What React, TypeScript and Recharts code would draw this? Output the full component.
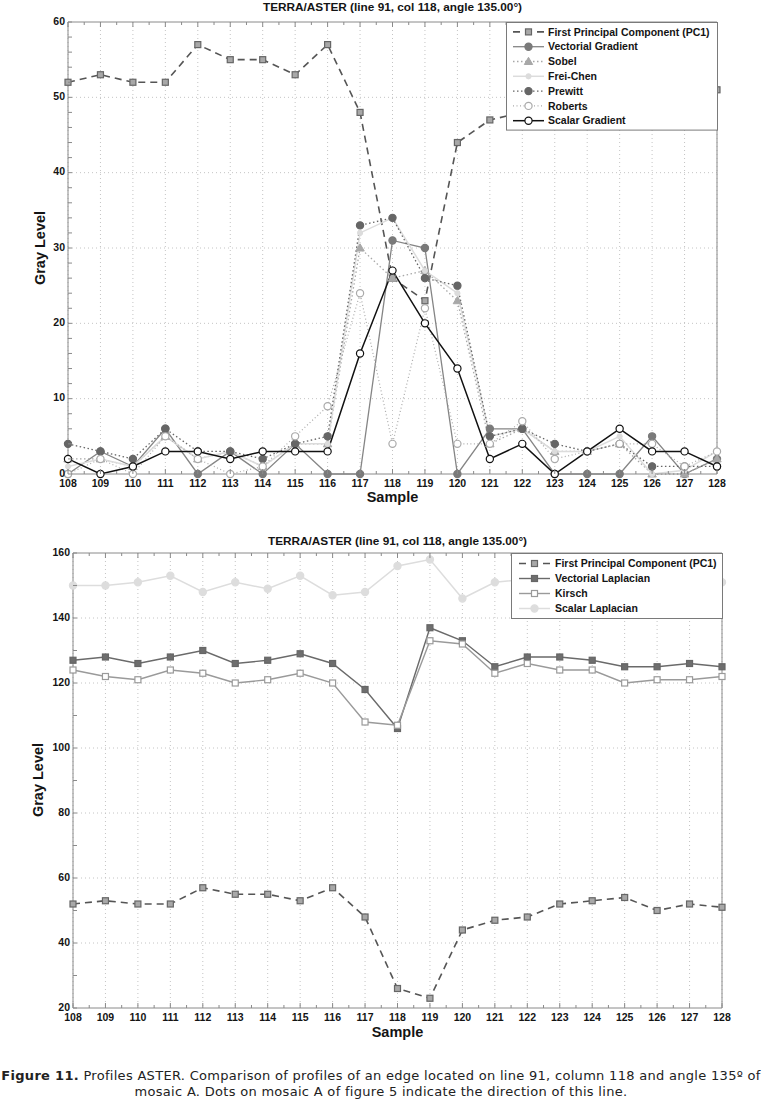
import React from "react";
import { CartesianGrid, Line, LineChart, XAxis, YAxis } from "recharts";

// sample positions along the profile
const SAMPLES = [108, 109, 110, 111, 112, 113, 114, 115, 116, 117, 118, 119, 120, 121, 122, 123, 124, 125, 126, 127, 128];

// top panel: gradient operators
const PC1 = [52, 53, 52, 52, 57, 55, 55, 53, 57, 48, 26, 23, 44, 47, 48, 52, 53, 54, 50, 52, 51];
const VECT_GRAD = [0, 3, 1, 6, 0, 3, 0, 4, 0, 0, 31, 30, 0, 6, 6, 0, 0, 0, 5, 0, 2];
const SOBEL = [2, 2, 1, 5, 2, 3, 1, 4, 4, 30, 26, 27, 23, 4, 6, 3, 3, 4, 0, 0, 2];
const FREI_CHEN = [1, 2, 1, 5, 2, 3, 1, 4, 4, 32, 34, 27, 24, 5, 6, 3, 3, 5, 0, 0.5, 3];
const PREWITT = [4, 3, 2, 6, 3, 3, 2, 4, 5, 33, 34, 26, 25, 5, 6, 4, 3, 4, 1, 1, 1];
const ROBERTS = [0, 2, 0, 5, 2, 0, 1, 5, 9, 24, 4, 22, 4, 4, 7, 2, 3, 4, 4, 1, 3];
const SCALAR_GRAD = [2, 0, 1, 3, 3, 2, 3, 3, 3, 16, 27, 20, 14, 2, 4, 0, 3, 6, 3, 3, 1];

// bottom panel: laplacian operators
const VECT_LAP = [127, 128, 126, 128, 130, 126, 127, 129, 126, 118, 106, 137, 133, 125, 128, 128, 127, 125, 125, 126, 125];
const KIRSCH = [124, 122, 121, 124, 123, 120, 121, 123, 120, 108, 107, 133, 132, 123, 126, 124, 124, 120, 121, 121, 122];
const SCALAR_LAP = [150, 150, 151, 153, 148, 151, 149, 153, 147, 148, 156, 158, 146, 151, 152, 151, 150, 151, 150, 151, 151];

const X_TICKS = SAMPLES.flatMap((s) => (s < 128 ? [s, s + 0.5] : [s]));
const TOP_Y_TICKS = [0, 2, 4, 6, 8, 10, 12, 14, 16, 18, 20, 22, 24, 26, 28, 30, 32, 34, 36, 38, 40, 42, 44, 46, 48, 50, 52, 54, 56, 58, 60];
const BOT_Y_TICKS = [20, 30, 40, 50, 60, 70, 80, 90, 100, 110, 120, 130, 140, 150, 160];

const TITLE = "TERRA/ASTER (line 91, col 118, angle 135.00°)";

const AXIS = "#8a8a8a";
const GRID = "#c4c4c4";
const TXT = "#141414";
const FONT = "'Liberation Sans', Arial, Helvetica, sans-serif";

type MarkerKind = "square" | "circle" | "triangle" | "dot";
type Series = {
  key: string;
  name: string;
  stroke: string;
  width: number;
  dash?: string;
  marker: MarkerKind;
  mfill: string;
  mstroke: string;
};

const TOP_SERIES: Series[] = [
  { key: "pc1", name: "First Principal Component (PC1)", stroke: "#555", width: 1.6, dash: "7 5", marker: "square", mfill: "#a8a8a8", mstroke: "#666" },
  { key: "vg", name: "Vectorial Gradient", stroke: "#858585", width: 1.3, marker: "circle", mfill: "#7a7a7a", mstroke: "#7a7a7a" },
  { key: "sobel", name: "Sobel", stroke: "#a8a8a8", width: 1.3, dash: "1.5 2.5", marker: "triangle", mfill: "#a8a8a8", mstroke: "#a8a8a8" },
  { key: "frei", name: "Frei-Chen", stroke: "#dcdcdc", width: 1.5, marker: "dot", mfill: "#dcdcdc", mstroke: "#dcdcdc" },
  { key: "prewitt", name: "Prewitt", stroke: "#666", width: 1.3, dash: "1.5 2.5", marker: "circle", mfill: "#666", mstroke: "#666" },
  { key: "roberts", name: "Roberts", stroke: "#aaa", width: 1.2, dash: "1 2.5", marker: "circle", mfill: "#fff", mstroke: "#aaa" },
  { key: "sg", name: "Scalar Gradient", stroke: "#111", width: 1.5, marker: "circle", mfill: "#fff", mstroke: "#111" },
];

const BOT_SERIES: Series[] = [
  { key: "pc1", name: "First Principal Component (PC1)", stroke: "#555", width: 1.6, dash: "7 5", marker: "square", mfill: "#a8a8a8", mstroke: "#666" },
  { key: "vl", name: "Vectorial Laplacian", stroke: "#6a6a6a", width: 1.4, marker: "square", mfill: "#6e6e6e", mstroke: "#666" },
  { key: "kirsch", name: "Kirsch", stroke: "#9a9a9a", width: 1.4, marker: "square", mfill: "#fff", mstroke: "#9a9a9a" },
  { key: "sl", name: "Scalar Laplacian", stroke: "#dddddd", width: 1.5, marker: "circle", mfill: "#dddddd", mstroke: "#dddddd" },
];

const topRows = SAMPLES.map((x, i) => ({
  x,
  pc1: PC1[i],
  vg: VECT_GRAD[i],
  sobel: SOBEL[i],
  frei: FREI_CHEN[i],
  prewitt: PREWITT[i],
  roberts: ROBERTS[i],
  sg: SCALAR_GRAD[i],
}));

const botRows = SAMPLES.map((x, i) => ({
  x,
  pc1: PC1[i],
  vl: VECT_LAP[i],
  kirsch: KIRSCH[i],
  sl: SCALAR_LAP[i],
}));

function Marker({ kind, cx, cy, fill, stroke }: { kind: MarkerKind; cx: number; cy: number; fill: string; stroke: string }) {
  if (cx == null || cy == null) return null;
  switch (kind) {
    case "square":
      return <rect x={cx - 3} y={cy - 3} width={6} height={6} fill={fill} stroke={stroke} strokeWidth={1.2} />;
    case "triangle":
      return <polygon points={`${cx},${cy - 4.2} ${cx - 4.2},${cy + 3} ${cx + 4.2},${cy + 3}`} fill={fill} stroke={stroke} strokeWidth={1} />;
    case "dot":
      return <circle cx={cx} cy={cy} r={2.6} fill={fill} stroke={stroke} />;
    default:
      return <circle cx={cx} cy={cy} r={3.6} fill={fill} stroke={stroke} strokeWidth={1.2} />;
  }
}

function XTick(props: any) {
  const { x, y, payload, side } = props;
  const v = payload.value;
  const major = Number.isInteger(v);
  const len = major ? 5 : 3;
  if (side === "top") return <line x1={x} y1={y} x2={x} y2={y + len} stroke={AXIS} />;
  return (
    <g>
      <line x1={x} y1={y} x2={x} y2={y - len} stroke={AXIS} />
      {major && (
        <text x={x} y={y + 5.5} dy="0.71em" textAnchor="middle" fontFamily={FONT} fontWeight="bold" fontSize={10.5} fill={TXT}>
          {v}
        </text>
      )}
    </g>
  );
}

function YTick(props: any) {
  const { x, y, payload, side, step } = props;
  const v = payload.value;
  const len = 4;
  if (side === "right") return <line x1={x} y1={y} x2={x - len} y2={y} stroke={AXIS} />;
  return (
    <g>
      <line x1={x} y1={y} x2={x + len} y2={y} stroke={AXIS} />
      {v % step === 0 && (
        <text x={x - 3} y={y - 1} dy="0.35em" textAnchor="end" fontFamily={FONT} fontWeight="bold" fontSize={10.5} fill={TXT}>
          {v}
        </text>
      )}
    </g>
  );
}

function LegendBox({ items, left, top, width, rowH, pad, sx0, sx1, tx }: { items: Series[]; left: number; top: number; width: number; rowH: number; pad: number; sx0: number; sx1: number; tx: number }) {
  const height = pad * 2 + rowH * items.length;
  return (
    <svg style={{ position: "absolute", left, top }} width={width} height={height}>
      <rect x={0.5} y={0.5} width={width - 1} height={height - 1} fill="#fff" stroke="#7a7a7a" />
      {items.map((s, i) => {
        const cy = pad + rowH * i + rowH / 2;
        const cx = (sx0 + sx1) / 2;
        return (
          <g key={s.key}>
            <line x1={sx0} y1={cy} x2={sx1} y2={cy} stroke={s.stroke} strokeWidth={s.width} strokeDasharray={s.dash} />
            <Marker kind={s.marker} cx={cx} cy={cy} fill={s.mfill} stroke={s.mstroke} />
            <text x={tx} y={cy} dy="0.36em" fontFamily={FONT} fontWeight="bold" fontSize={10.5} fill={TXT}>
              {s.name}
            </text>
          </g>
        );
      })}
    </svg>
  );
}

function Panel({
  rows,
  series,
  height,
  topH,
  botH,
  leftW,
  rightW,
  yDomain,
  yTicks,
  yStep,
  yGrid,
}: {
  rows: any[];
  series: Series[];
  height: number;
  topH: number;
  botH: number;
  leftW: number;
  rightW: number;
  yDomain: [number, number];
  yTicks: number[];
  yStep: number;
  yGrid: number[];
}) {
  return (
    <LineChart width={762} height={height} data={rows} margin={{ top: 0, right: 0, bottom: 0, left: 0 }}>
      <XAxis
        xAxisId="b"
        dataKey="x"
        type="number"
        orientation="bottom"
        domain={[108, 128]}
        ticks={X_TICKS}
        interval={0}
        height={botH}
        tickSize={0}
        tickMargin={0}
        tickLine={false}
        axisLine={{ stroke: AXIS }}
        tick={(p: any) => <XTick {...p} side="bottom" />}
      />
      <XAxis
        xAxisId="t"
        dataKey="x"
        type="number"
        orientation="top"
        domain={[108, 128]}
        ticks={X_TICKS}
        interval={0}
        height={topH}
        tickSize={0}
        tickMargin={0}
        tickLine={false}
        axisLine={{ stroke: AXIS }}
        tick={(p: any) => <XTick {...p} side="top" />}
      />
      <YAxis
        yAxisId="l"
        type="number"
        orientation="left"
        domain={yDomain}
        ticks={yTicks}
        interval={0}
        width={leftW}
        tickSize={0}
        tickMargin={0}
        tickLine={false}
        axisLine={{ stroke: AXIS }}
        tick={(p: any) => <YTick {...p} side="left" step={yStep} />}
      />
      <YAxis
        yAxisId="r"
        type="number"
        orientation="right"
        domain={yDomain}
        ticks={yTicks}
        interval={0}
        width={rightW}
        tickSize={0}
        tickMargin={0}
        tickLine={false}
        axisLine={{ stroke: AXIS }}
        tick={(p: any) => <YTick {...p} side="right" step={yStep} />}
      />
      <CartesianGrid
        xAxisId="b"
        yAxisId="l"
        stroke={GRID}
        strokeDasharray="1 3"
        verticalValues={SAMPLES}
        horizontalValues={yGrid}
      />
      {series.map((s) => (
        <Line
          key={s.key}
          xAxisId="b"
          yAxisId="l"
          dataKey={s.key}
          name={s.name}
          type="linear"
          stroke={s.stroke}
          strokeWidth={s.width}
          strokeDasharray={s.dash}
          isAnimationActive={false}
          activeDot={false}
          dot={(p: any) => <Marker key={`${s.key}-${p.index}`} kind={s.marker} cx={p.cx} cy={p.cy} fill={s.mfill} stroke={s.mstroke} />}
        />
      ))}
    </LineChart>
  );
}

const abs = (left: number, top: number): React.CSSProperties => ({ position: "absolute", left, top });

export default function App() {
  const label: React.CSSProperties = { fontFamily: FONT, fontWeight: "bold", color: TXT, whiteSpace: "nowrap" };
  return (
    <div style={{ position: "absolute", left: 0, top: 0, width: 762, height: 1102, background: "#fff", overflow: "hidden" }}>
      {/* top panel */}
      <div style={abs(0, 0)}>
        <Panel
          rows={topRows}
          series={TOP_SERIES}
          height={510}
          topH={22}
          botH={36}
          leftW={68}
          rightW={45}
          yDomain={[0, 60]}
          yTicks={TOP_Y_TICKS}
          yStep={10}
          yGrid={[10, 20, 30, 40, 50]}
        />
      </div>
      <div style={{ ...label, ...abs(68, 0), width: 649, textAlign: "center", fontSize: 11.8 }}>{TITLE}</div>
      <div style={{ ...label, ...abs(68, 489), width: 649, textAlign: "center", fontSize: 14.5 }}>Sample</div>
      <div style={{ ...label, position: "absolute", left: 40, top: 248, fontSize: 14.5, transform: "translate(-50%, -50%) rotate(-90deg)" }}>
        Gray Level
      </div>
      <LegendBox items={TOP_SERIES} left={506} top={22} width={212} rowH={14.8} pad={2.5} sx0={7} sx1={38} tx={42} />

      {/* bottom panel */}
      <div style={abs(0, 520)}>
        <Panel
          rows={botRows}
          series={BOT_SERIES}
          height={520}
          topH={33}
          botH={32}
          leftW={73}
          rightW={40}
          yDomain={[20, 160]}
          yTicks={BOT_Y_TICKS}
          yStep={20}
          yGrid={[40, 60, 80, 100, 120, 140]}
        />
      </div>
      <div style={{ ...label, ...abs(73, 534), width: 649, textAlign: "center", fontSize: 11.8 }}>{TITLE}</div>
      <div style={{ ...label, ...abs(73, 1024), width: 649, textAlign: "center", fontSize: 14.5 }}>Sample</div>
      <div style={{ ...label, position: "absolute", left: 38, top: 780, fontSize: 14.5, transform: "translate(-50%, -50%) rotate(-90deg)" }}>
        Gray Level
      </div>
      <LegendBox items={BOT_SERIES} left={511} top={553} width={212} rowH={15} pad={3} sx0={8} sx1={39} tx={44} />

      {/* caption */}
      <div
        style={{
          position: "absolute",
          left: 0,
          top: 1068,
          width: 762,
          textAlign: "center",
          fontFamily: "'DejaVu Sans', Verdana, sans-serif",
          fontSize: 13,
          letterSpacing: 0.3,
          lineHeight: "16px",
          whiteSpace: "nowrap",
          color: "#222",
        }}
      >
        <b>Figure 11.</b> Profiles ASTER. Comparison of profiles of an edge located on line 91, column 118 and angle 135º of
        <br />
        mosaic A. Dots on mosaic A of figure 5 indicate the direction of this line.
      </div>
    </div>
  );
}
